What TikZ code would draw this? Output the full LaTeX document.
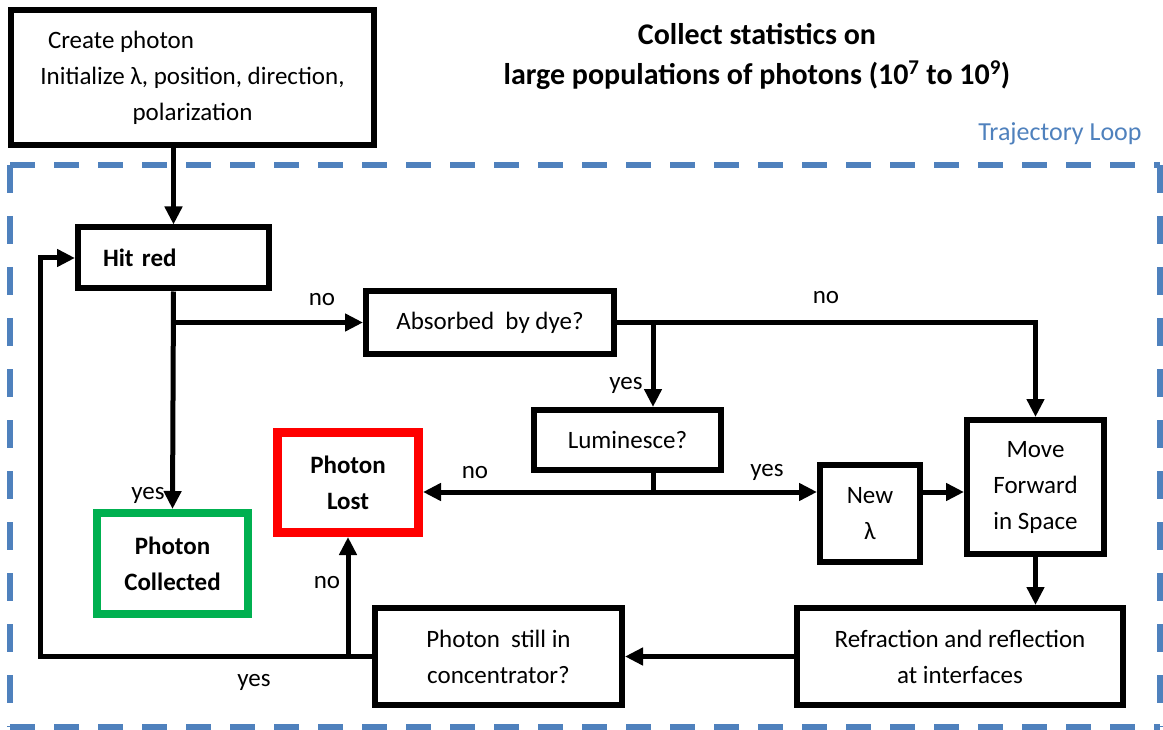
\documentclass[tikz,border=0pt]{standalone}
\usepackage{fontspec}
\setmainfont{Carlito}
\usetikzlibrary{arrows.meta}

\definecolor{loopblue}{RGB}{79,129,189}
\definecolor{okgreen}{RGB}{0,176,80}

\begin{document}
\begin{tikzpicture}[x=1pt, y=-1pt,
    every node/.style={font=\fontsize{25}{36}\selectfont, inner sep=0pt},
    box/.style={draw, line width=6pt, align=center},
    link/.style={line width=5pt},
    arr/.style={line width=5pt, -{Triangle[length=18pt,width=17pt]}},
    twoarr/.style={line width=5pt, {Triangle[length=18pt,width=17pt]}-{Triangle[length=18pt,width=17pt]}}]

    \useasboundingbox (0,0) rectangle (1163,730);

    % trajectory loop frame
    \draw[loopblue, line width=6pt, dash pattern=on 25pt off 19pt] (10,165) -- (1160,165) (10,727) -- (1160,727);
    \draw[loopblue, line width=6pt, dash pattern=on 28pt off 23pt] (10,165) -- (10,727) (1160,165) -- (1160,727);
    \node[loopblue, font=\fontsize{26}{30}\selectfont] (looptitle) at (1060,134) {Trajectory Loop};

    \node[font=\fontsize{30}{40}\selectfont\bfseries, align=center] (stats) at (757,56)
        {Collect statistics on\\large populations of photons (10\textsuperscript{7} to 10\textsuperscript{9})};

    % boxes
    \node[box, minimum width=363, minimum height=135] (create) at (192.5,77.5)
        {Create photon\hspace*{143pt}\\Initialize λ, position, direction,\\polarization};
    \node[box, minimum width=191, minimum height=61, text width=141, align=left, font=\fontsize{25}{36}\selectfont\bfseries] (hit) at (173.5,258) {Hit red};
    \node[box, minimum width=248, minimum height=63] (absorb) at (490,322.5) {Absorbed\ \ by dye?};
    \node[box, minimum width=187, minimum height=60] (lum) at (627.5,440) {Luminesce?};
    \node[box, draw=okgreen, line width=8pt, minimum width=151, minimum height=101, font=\fontsize{25}{36}\selectfont\bfseries] (collected) at (172.5,563.5) {Photon\\Collected};
    \node[box, draw=red, line width=9pt, minimum width=141, minimum height=100, font=\fontsize{25}{36}\selectfont\bfseries] (lost) at (348,482.5) {Photon\\Lost};
    \node[box, minimum width=100, minimum height=97] (newl) at (870,513.5) {New\\λ};
    \node[box, minimum width=137, minimum height=134] (move) at (1035.5,487) {Move\\Forward\\in Space};
    \node[box, minimum width=326, minimum height=97] (refr) at (960,656.5) {Refraction and reflection\\at interfaces};
    \node[box, minimum width=247, minimum height=97] (still) at (498.5,656.5) {Photon\ \ still in\\concentrator?};

    % branch points
    \coordinate (yesfork) at (653,0);
    \coordinate (lumfork) at (653,492);
    \coordinate (loopleft) at (40,0);

    % connectors
    \draw[arr] (create.south -| hit.north) -- (hit.north);
    \draw[arr] (hit.south) -- (collected.north);
    \draw[arr] (hit.south |- absorb.west) -- (absorb.west);
    \draw[arr] (absorb.east) -| (move.north);
    \draw[arr] (absorb.east -| yesfork) -- (lum.north -| yesfork);
    \draw[link] (lum.south -| lumfork) -- (lumfork);
    \draw[twoarr] (lost.east |- lumfork) -- (newl.west |- lumfork);
    \draw[arr] (newl.east |- lumfork) -- (move.west |- lumfork);
    \draw[arr] (move.south) -- (move.south |- refr.north);
    \draw[arr] (refr.west) -- (still.east);
    \draw[arr] (still.west) -- (still.west -| loopleft) |- (hit.west);
    \draw[arr] (still.west -| lost.south) -- (lost.south);

    % yes / no
    \node (hitno) at (322,300) {no};
    \node (hityes) at (148,495) {yes};
    \node (dyeno) at (826,298) {no};
    \node (dyeyes) at (626,385) {yes};
    \node (lumno) at (475,473) {no};
    \node (lumyes) at (767,472) {yes};
    \node (stillno) at (327,583) {no};
    \node (stillyes) at (254,682) {yes};

\end{tikzpicture}
\end{document}
